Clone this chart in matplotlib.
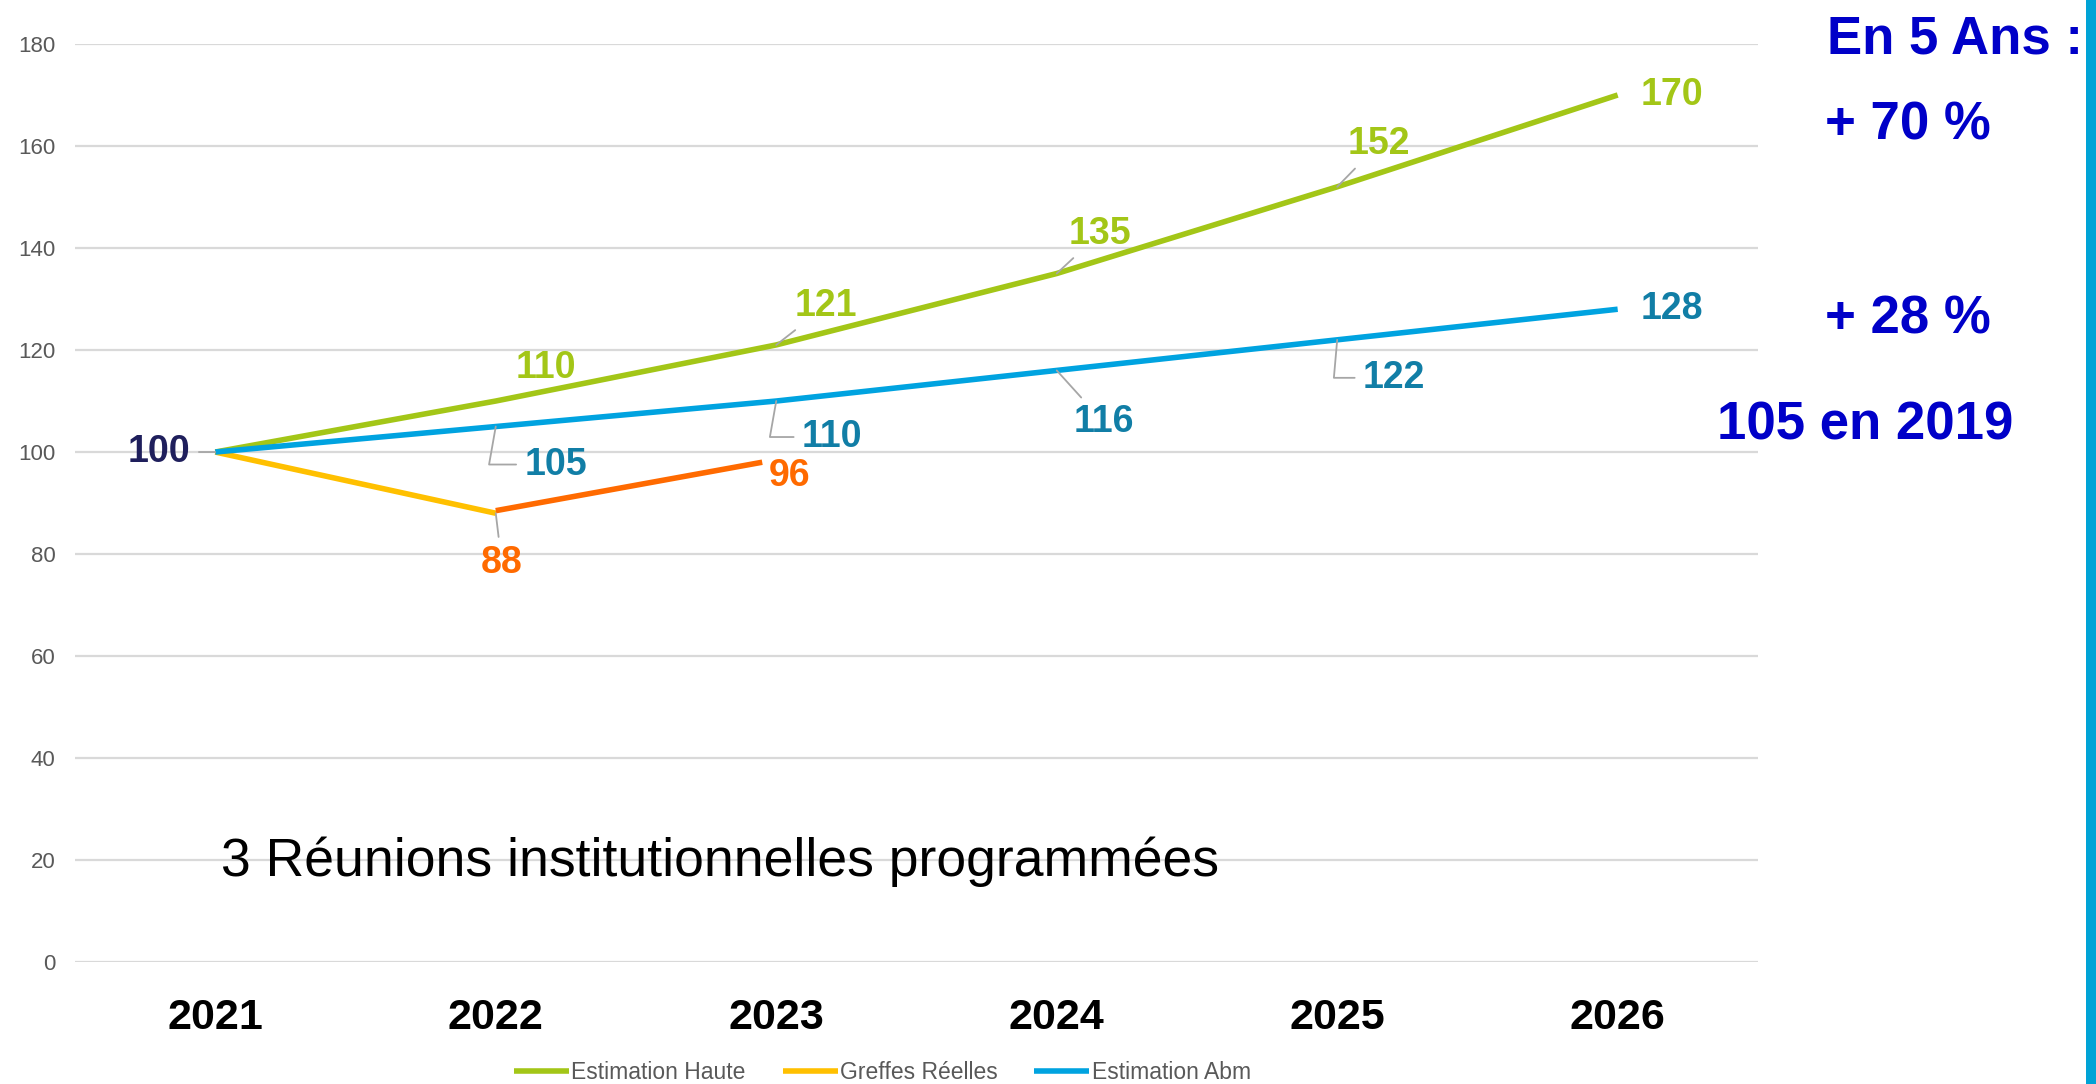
import matplotlib
matplotlib.use("Agg")
from matplotlib import pyplot as plt

plt.rcParams['font.family'] = ['Liberation Sans', 'DejaVu Sans']

# Data
years = [2021, 2022, 2023, 2024, 2025, 2026]
estimation_haute = [100, 110, 121, 135, 152, 170]
estimation_abm = [100, 105, 110, 116, 122, 128]
greffes_years = [2021, 2022]
greffes_reelles = [100, 88]
# orange trend segment drawn over the chart (label says 96)
trend_x = [2022, 2022.95]
trend_y = [88.5, 98]
trend_label = '96'

yticks = [0, 20, 40, 60, 80, 100, 120, 140, 160, 180]
note = '3 Réunions institutionnelles programmées'
side_texts = ['En 5 Ans :', '+ 70 %', '+ 28 %', '105 en 2019']

GREEN = '#A3C617'
YELLOW = '#FFC000'
BLUE = '#00A3E0'
ORANGE = '#FF6A00'
TEAL = '#117EA6'
NAVY = '#1F1F5C'
LEADER = '#A6A6A6'
DARKBLUE = '#0000C8'

fig = plt.figure(figsize=(20.96, 10.84), dpi=100)
ax = fig.add_axes([0.0358, 0.1125, 0.8029, 0.8469])

ax.plot(years, estimation_haute, color=GREEN, lw=4, label='Estimation Haute',
        solid_capstyle='butt', zorder=3)
ax.plot(greffes_years, greffes_reelles, color=YELLOW, lw=4, label='Greffes Réelles',
        solid_capstyle='butt', zorder=3)
ax.plot(years, estimation_abm, color=BLUE, lw=4, label='Estimation Abm',
        solid_capstyle='butt', zorder=4)
ax.plot(trend_x, trend_y, color=ORANGE, lw=4, solid_capstyle='butt', zorder=5)

ax.set_xlim(2020.5, 2026.5)
ax.set_ylim(0, 180)
ax.set_yticks(yticks)
ax.set_xticks(years)
ax.set_xticklabels([str(y) for y in years], fontsize=31, fontweight='bold')
ax.tick_params(axis='x', length=0, pad=26)
ax.tick_params(axis='y', length=0, pad=14, labelsize=16, labelcolor='#595959')
ax.grid(axis='y', color='#D9D9D9', lw=1.6)
ax.set_axisbelow(True)
for s in ax.spines.values():
    s.set_visible(False)


def label(x, y, text, dx, dy, color, conn=None):
    # dx, dy: label centre offset in pixels from the point
    arrow = None
    if conn is not None:
        arrow = dict(arrowstyle='-', color=LEADER, lw=1.3, shrinkA=4, shrinkB=0,
                     connectionstyle=conn)
    ax.annotate(text, (x, y), xytext=(dx, dy), textcoords='offset pixels',
                ha='center', va='center', fontsize=27, fontweight='bold',
                color=color, arrowprops=arrow, zorder=6)


# green labels
label(years[0], estimation_haute[0], '100', -56, 0, NAVY, 'arc3')
green_off = [None, (50, 33), (50, 39), (43, 40), (42, 43), (54, 0)]
for i in range(1, len(years)):
    dx, dy = green_off[i]
    conn = 'arc3' if i in (2, 3, 4) else None
    label(years[i], estimation_haute[i], str(estimation_haute[i]), dx, dy, GREEN, conn)

# blue labels
blue_off = [None, (60, -38), (56, -36), (47, -52), (57, -38), (54, 0)]
blue_conn = [None, 'angle,angleA=0,angleB=80,rad=0', 'angle,angleA=0,angleB=80,rad=0',
             'arc3', 'angle,angleA=0,angleB=85,rad=0', None]
for i in range(1, len(years)):
    dx, dy = blue_off[i]
    label(years[i], estimation_abm[i], str(estimation_abm[i]), dx, dy, TEAL, blue_conn[i])

# greffes reelles and trend
label(greffes_years[1], greffes_reelles[1], str(greffes_reelles[1]), 6, -50, ORANGE, 'arc3')
label(trend_x[1], trend_y[1], trend_label, 27, -14, ORANGE)

ax.text(2021.02, 19.6, note, fontsize=38.5, color='black', ha='left', va='center')

# side comments
fig.text(1827 / 2096, 1 - 40 / 1084, side_texts[0], fontsize=38, fontweight='bold',
         color=DARKBLUE, ha='left', va='center')
fig.text(1825 / 2096, 1 - 126 / 1084, side_texts[1], fontsize=38, fontweight='bold',
         color=DARKBLUE, ha='left', va='center')
fig.text(1825 / 2096, 1 - 319 / 1084, side_texts[2], fontsize=38, fontweight='bold',
         color=DARKBLUE, ha='left', va='center')
fig.text(1717 / 2096, 1 - 425 / 1084, side_texts[3], fontsize=38, fontweight='bold',
         color=DARKBLUE, ha='left', va='center')

# blue bar at the right edge
fig.add_artist(plt.Rectangle((2086 / 2096, 0), 10 / 2096, 1, transform=fig.transFigure,
                             color='#00A3D6', lw=0))

leg = fig.legend(loc='center', bbox_to_anchor=(0.421, 0.011), ncol=3, frameon=False,
                 fontsize=16.5, handlelength=2.4, handletextpad=0.1, columnspacing=1.6)
for t in leg.get_texts():
    t.set_color('#595959')

fig.savefig('out.png', dpi=100)
